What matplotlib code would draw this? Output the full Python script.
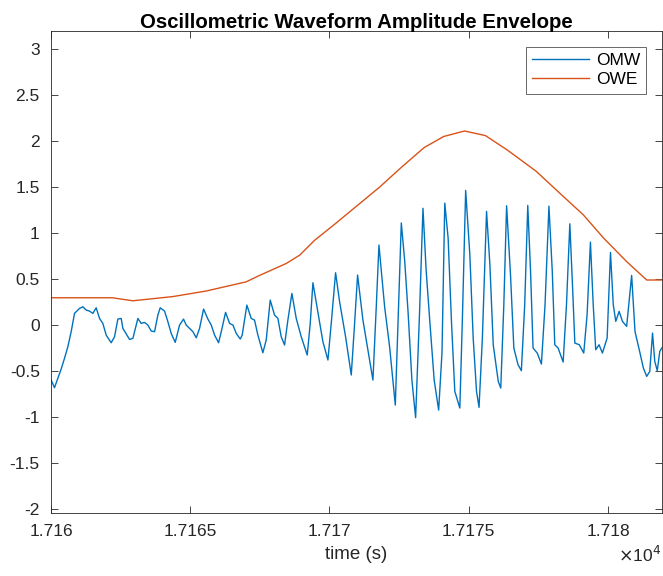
import matplotlib
matplotlib.use('Agg')
import matplotlib.pyplot as plt
from matplotlib.ticker import FuncFormatter

# oscillometric waveform (OMW)
omw_t = [
    17160.006, 17160.126, 17160.246, 17160.365, 17160.485, 17160.605, 17160.725,
    17160.845, 17161.024, 17161.144, 17161.264, 17161.383, 17161.503, 17161.623,
    17161.743, 17161.862, 17161.982, 17162.162, 17162.282, 17162.401, 17162.521,
    17162.581, 17162.725, 17162.821, 17162.940, 17163.120, 17163.240, 17163.359,
    17163.479, 17163.599, 17163.719, 17163.838, 17163.922, 17164.078, 17164.198,
    17164.317, 17164.461, 17164.617, 17164.760, 17164.856, 17164.976, 17165.096,
    17165.216, 17165.335, 17165.479, 17165.635, 17165.755, 17165.874, 17166.018,
    17166.114, 17166.269, 17166.413, 17166.533, 17166.653, 17166.796, 17166.866,
    17167.033, 17167.189, 17167.309, 17167.429, 17167.608, 17167.728, 17167.872,
    17168.027, 17168.147, 17168.267, 17168.387, 17168.506, 17168.650, 17168.806,
    17168.986, 17169.201, 17169.309, 17169.405, 17169.608, 17169.764, 17169.944,
    17170.063, 17170.219, 17170.363, 17170.578, 17170.782, 17170.902, 17171.009,
    17171.201, 17171.381, 17171.560, 17171.680, 17171.776, 17171.980, 17172.159,
    17172.363, 17172.470, 17172.579, 17172.700, 17172.820, 17172.960, 17173.093,
    17173.230, 17173.357, 17173.470, 17173.600, 17173.760, 17173.920, 17174.040,
    17174.140, 17174.260, 17174.380, 17174.500, 17174.680, 17174.770, 17174.890,
    17175.040, 17175.160, 17175.280, 17175.370, 17175.490, 17175.640, 17175.760,
    17175.880, 17176.060, 17176.150, 17176.260, 17176.360, 17176.500, 17176.620,
    17176.770, 17176.890, 17177.010, 17177.120, 17177.220, 17177.310, 17177.460,
    17177.610, 17177.740, 17177.880, 17178.000, 17178.090, 17178.210, 17178.390,
    17178.510, 17178.630, 17178.730, 17178.810, 17178.970, 17179.130, 17179.250,
    17179.370, 17179.470, 17179.560, 17179.680, 17179.800, 17179.970, 17180.090,
    17180.190, 17180.280, 17180.400, 17180.520, 17180.670, 17180.850, 17180.970,
    17181.150, 17181.270, 17181.390, 17181.500, 17181.600, 17181.680, 17181.770,
    17181.860, 17181.970,
]
omw_v = [
    -0.598, -0.681, -0.580, -0.478, -0.362, -0.236, -0.072,
    0.127, 0.181, 0.199, 0.163, 0.152, 0.127, 0.188,
    0.072, 0.018, -0.109, -0.192, -0.127, 0.065, 0.072,
    -0.036, -0.109, -0.156, -0.145, 0.072, 0.018, 0.029,
    0.000, -0.065, -0.072, 0.109, 0.188, 0.152, 0.036,
    -0.091, -0.188, 0.000, 0.065, 0.000, -0.036, -0.072,
    -0.138, -0.036, 0.174, 0.065, 0.000, -0.109, -0.192,
    -0.072, 0.138, 0.018, 0.000, -0.091, -0.152, -0.109,
    0.217, 0.073, 0.054, -0.109, -0.301, -0.163, 0.272,
    0.109, 0.073, -0.127, -0.217, 0.054, 0.344, 0.073,
    -0.127, -0.326, 0.018, 0.460, 0.098, -0.181, -0.380,
    0.018, 0.569, 0.254, -0.127, -0.543, 0.018, 0.544,
    0.054, -0.272, -0.598, 0.199, 0.870, 0.199, -0.235,
    -0.870, 0.100, 1.110, 0.700, 0.150, -0.600, -1.007,
    0.100, 1.270, 0.600, 0.050, -0.600, -0.924, -0.300,
    1.326, 0.946, 0.040, -0.721, -0.902, 0.040, 1.464,
    0.764, -0.141, -0.721, -0.895, -0.141, 1.236, 0.656,
    -0.214, -0.612, -0.685, 0.221, 1.297, 0.547, -0.250,
    -0.431, -0.496, 0.221, 1.301, 0.583, -0.250, -0.304,
    -0.424, 0.221, 1.293, 0.583, -0.214, -0.250, -0.402,
    0.221, 1.101, 0.402, -0.196, -0.214, -0.304, 0.112,
    0.902, 0.221, -0.268, -0.214, -0.304, -0.141, 0.790,
    0.221, 0.040, 0.149, 0.040, -0.014, 0.540, -0.069,
    -0.304, -0.467, -0.558, -0.504, -0.087, -0.395, -0.496,
    -0.286, -0.232,
]

# amplitude envelope (OWE)
owe_t = [17160.0, 17162.2, 17162.94, 17164.38, 17165.57, 17166.29, 17167.01,
         17167.49, 17168.45, 17168.93, 17169.46, 17170.2, 17171.0, 17171.8,
         17172.6, 17173.4, 17174.1, 17174.85, 17175.6, 17176.4, 17177.43,
         17178.39, 17179.11, 17179.83, 17180.67, 17181.39, 17181.94]
owe_v = [0.297, 0.297, 0.264, 0.31, 0.37, 0.42, 0.47,
         0.54, 0.67, 0.76, 0.92, 1.1, 1.3, 1.5,
         1.72, 1.93, 2.05, 2.11, 2.06, 1.9, 1.67,
         1.40, 1.20, 0.95, 0.69, 0.49, 0.49]

x_ticks = [17160, 17165, 17170, 17175, 17180]
y_ticks = [-2, -1.5, -1, -0.5, 0, 0.5, 1, 1.5, 2, 2.5, 3]

plt.rcParams['font.family'] = ['Liberation Sans', 'DejaVu Sans']
axis_col = (0.15, 0.15, 0.15)

fig = plt.figure(figsize=(6.63, 5.76), dpi=100)
ax = fig.add_axes([0.0769, 0.1094, 0.9216, 0.8366])

ax.plot(omw_t, omw_v, color=(0, 0.447, 0.741), lw=1.0, label='OMW')
ax.plot(owe_t, owe_v, color=(0.85, 0.325, 0.098), lw=1.0, label='OWE')

ax.set_xlim(17160, 17181.94)
ax.set_ylim(-2.043, 3.196)
ax.set_xticks(x_ticks)
ax.set_yticks(y_ticks)
ax.xaxis.set_major_formatter(FuncFormatter(lambda v, p: '%g' % (v / 1e4)))
ax.yaxis.set_major_formatter(FuncFormatter(lambda v, p: '%g' % v))
ax.tick_params(direction='in', top=True, right=True, length=5, width=0.6,
               colors=axis_col, labelsize=12.5, labelcolor=axis_col, pad=8)
for s in ax.spines.values():
    s.set_color(axis_col)
    s.set_linewidth(0.6)

ax.set_xlabel('time (s)', fontsize=13.5, color=axis_col, labelpad=5)
ax.set_title('Oscillometric Waveform Amplitude Envelope', fontsize=14.7,
             fontweight='bold', pad=2)
ax.text(0.998, -0.088, r'$\times$10$^{4}$', transform=ax.transAxes,
        ha='right', va='center', fontsize=12.5, color=axis_col)

leg = ax.legend(loc='upper right', fontsize=12.5, handlelength=3.3,
                fancybox=False, borderaxespad=0.9, handletextpad=0.4,
                labelspacing=0.25, borderpad=0.35)
leg.get_frame().set_edgecolor(axis_col)
leg.get_frame().set_linewidth(0.6)

fig.savefig('out.png', dpi=100)
